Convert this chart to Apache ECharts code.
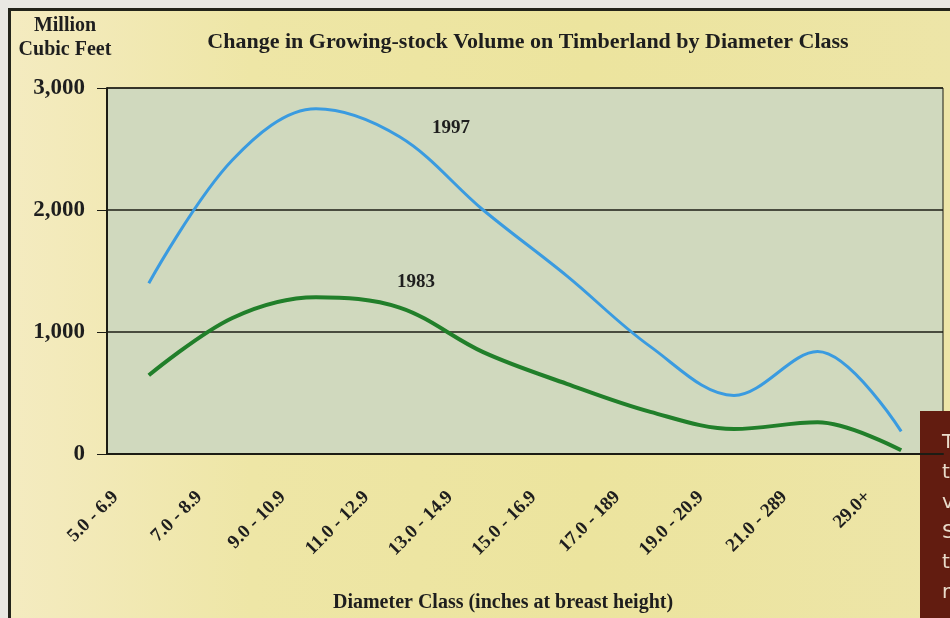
<!DOCTYPE html>
<html>
<head>
<meta charset="utf-8">
<script src="https://cdn.jsdelivr.net/npm/echarts@6/dist/echarts.min.js"></script>
<style>
  html, body { margin: 0; padding: 0; background: #e9e8e3; }
  #frame {
    position: absolute; left: 8px; top: 8px; width: 960px; height: 640px;
    border: 3px solid #23241a;
    background: linear-gradient(90deg, #f4ebc0 0%, #eee6a6 25%, #ece49e 60%, #ede5a8 100%);
  }
  #main { position: absolute; left: 0; top: 0; width: 950px; height: 618px; }
</style>
</head>
<body>
<div id="frame"></div>
<div id="main"></div>
<script>
// diameter classes (as printed on the chart)
const classes = ['5.0 - 6.9', '7.0 - 8.9', '9.0 - 10.9', '11.0 - 12.9', '13.0 - 14.9',
  '15.0 - 16.9', '17.0 - 189', '19.0 - 20.9', '21.0 - 289', '29.0+'];
// million cubic feet
const vol1997 = [1400, 2410, 2830, 2600, 2000, 1460, 880, 480, 840, 185];
const vol1983 = [645, 1115, 1285, 1200, 835, 575, 345, 205, 260, 30];
const yTicks = [0, 1000, 2000, 3000];

const serif = "'Liberation Serif', 'Times New Roman', serif";

const chart = echarts.init(document.getElementById('main'));
chart.setOption({
  backgroundColor: 'transparent',
  animation: false,
  grid: {
    left: 107, right: 7, top: 88, bottom: 164,
    show: true, backgroundColor: '#d0d9be', borderColor: '#1c1c14', borderWidth: 1
  },
  xAxis: {
    type: 'category',
    data: classes,
    boundaryGap: true,
    axisLine: { lineStyle: { color: '#1c1c14', width: 2 } },
    axisTick: { show: false },
    axisLabel: {
      interval: 0, rotate: 45, margin: 7,
      padding: [0, 47, 0, 0],
      fontFamily: serif, fontWeight: 'bold', fontSize: 19, color: '#1e1e1e'
    }
  },
  yAxis: {
    type: 'value',
    min: yTicks[0], max: yTicks[yTicks.length - 1], interval: 1000,
    axisLine: { show: true, lineStyle: { color: '#1c1c14', width: 2 } },
    axisTick: { show: true, length: 10, lineStyle: { color: '#1c1c14' } },
    splitLine: { lineStyle: { color: '#1c1c14', width: 1.5 } },
    axisLabel: {
      margin: 22,
      formatter: v => v.toLocaleString('en-US'),
      fontFamily: serif, fontWeight: 'bold', fontSize: 23, color: '#1e1e1e'
    }
  },
  series: [
    {
      name: '1997', type: 'line', data: vol1997, smooth: 0.35,
      symbol: 'none',
      lineStyle: { color: '#3a9be0', width: 3 }
    },
    {
      name: '1983', type: 'line', data: vol1983, smooth: 0.35,
      symbol: 'none',
      lineStyle: { color: '#217f2a', width: 4 }
    }
  ],
  graphic: [
    {
      type: 'text', x: 528, y: 42,
      style: {
        text: 'Change in Growing-stock Volume on Timberland by Diameter Class',
        fontFamily: serif, fontWeight: 'bold', fontSize: 22, fill: '#1e1e1e',
        align: 'center', verticalAlign: 'middle'
      }
    },
    {
      type: 'text', x: 65, y: 38,
      style: {
        text: 'Million\nCubic Feet', lineHeight: 24,
        fontFamily: serif, fontWeight: 'bold', fontSize: 20, fill: '#1e1e1e',
        align: 'center', verticalAlign: 'middle'
      }
    },
    {
      type: 'text', x: 503, y: 603,
      style: {
        text: 'Diameter Class (inches at breast height)',
        fontFamily: serif, fontWeight: 'bold', fontSize: 20, fill: '#1e1e1e',
        align: 'center', verticalAlign: 'middle'
      }
    },
    {
      type: 'text', x: 451, y: 128,
      style: {
        text: '1997', fontFamily: serif, fontWeight: 'bold', fontSize: 19, fill: '#1e1e1e',
        align: 'center', verticalAlign: 'middle'
      }
    },
    {
      type: 'text', x: 416, y: 282,
      style: {
        text: '1983', fontFamily: serif, fontWeight: 'bold', fontSize: 19, fill: '#1e1e1e',
        align: 'center', verticalAlign: 'middle'
      }
    },
    {
      type: 'group', z: 100,
      children: [
        { type: 'rect', shape: { x: 920, y: 411, width: 40, height: 220 }, style: { fill: '#621c10' } },
        {
          type: 'text', x: 942, y: 428,
          style: {
            text: 'T\nt\nv\nS\nt\nr', lineHeight: 30,
            fontFamily: "'DejaVu Sans', sans-serif", fontSize: 20, fill: '#eadccb',
            align: 'left', verticalAlign: 'top'
          }
        }
      ]
    }
  ]
});
</script>
</body>
</html>
